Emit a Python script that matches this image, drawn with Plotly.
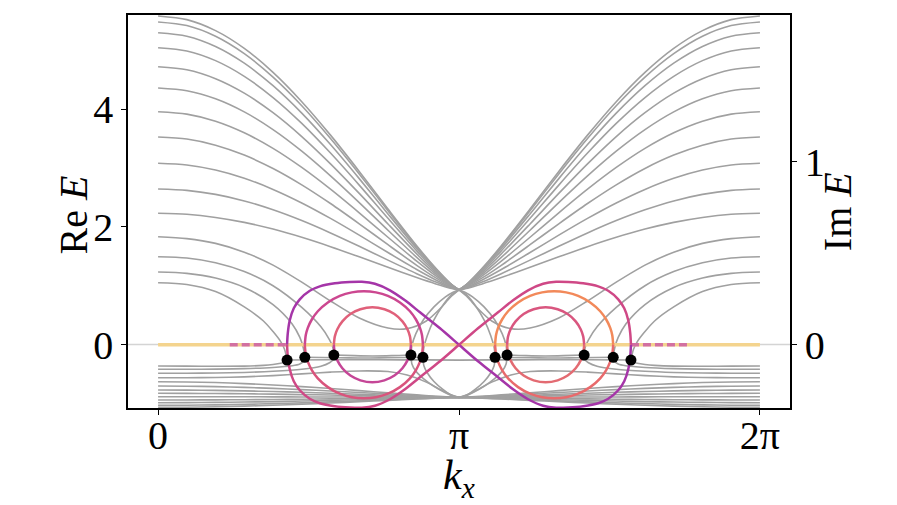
import math
import plotly.graph_objects as go

PI = math.pi
TWO_PI = 2 * math.pi

# ---------------- data ----------------
# regular bands, sampled on k in [0, pi]; the spectrum is symmetric under k -> 2pi - k
K_HALF = [0, 0.3, 0.6, 0.9, 1.2, 1.5, 1.8, 2.1, 2.4, 2.7, 2.9, 3.05, PI]

UPPER_BANDS = [
    [5.587, 5.525, 5.338, 5.036, 4.628, 4.130, 3.561, 2.944, 2.305, 1.680, 1.295, 1.042, 0.927],
    [5.485, 5.424, 5.242, 4.946, 4.547, 4.060, 3.503, 2.900, 2.275, 1.664, 1.287, 1.040, 0.927],
    [5.303, 5.244, 5.069, 4.785, 4.402, 3.935, 3.400, 2.821, 2.221, 1.634, 1.272, 1.035, 0.927],
    [5.048, 4.993, 4.828, 4.561, 4.200, 3.760, 3.256, 2.711, 2.146, 1.593, 1.252, 1.029, 0.927],
    [4.724, 4.673, 4.521, 4.275, 3.943, 3.537, 3.073, 2.570, 2.050, 1.541, 1.227, 1.021, 0.927],
    [4.362, 4.316, 4.179, 3.956, 3.655, 3.288, 2.868, 2.414, 1.943, 1.482, 1.198, 1.012, 0.927],
    [3.959, 3.918, 3.797, 3.600, 3.335, 3.011, 2.641, 2.239, 1.824, 1.417, 1.166, 1.002, 0.927],
    [3.529, 3.494, 3.390, 3.221, 2.994, 2.716, 2.398, 2.053, 1.697, 1.347, 1.132, 0.991, 0.927],
    [3.082, 3.053, 2.967, 2.827, 2.638, 2.408, 2.145, 1.860, 1.564, 1.275, 1.097, 0.980, 0.927],
    [2.645, 2.622, 2.553, 2.442, 2.291, 2.108, 1.898, 1.671, 1.435, 1.205, 1.063, 0.969, 0.927],
    [2.231, 2.214, 2.161, 2.077, 1.963, 1.823, 1.664, 1.491, 1.313, 1.138, 1.030, 0.959, 0.927],
]

LOWER_BANDS = [
    [-0.633, -0.637, -0.647, -0.665, -0.688, -0.716, -0.749, -0.784, -0.821, -0.857, -0.879, -0.893, -0.900],
    [-0.706, -0.709, -0.716, -0.729, -0.746, -0.767, -0.790, -0.816, -0.843, -0.869, -0.885, -0.895, -0.900],
    [-0.774, -0.776, -0.781, -0.789, -0.800, -0.813, -0.829, -0.845, -0.863, -0.880, -0.890, -0.897, -0.900],
    [-0.830, -0.831, -0.834, -0.838, -0.844, -0.852, -0.860, -0.870, -0.879, -0.889, -0.894, -0.898, -0.900],
    [-0.888, -0.888, -0.889, -0.889, -0.890, -0.892, -0.893, -0.895, -0.896, -0.898, -0.899, -0.900, -0.900],
    [-0.944, -0.943, -0.942, -0.939, -0.935, -0.930, -0.925, -0.919, -0.913, -0.907, -0.903, -0.901, -0.900],
    [-0.990, -0.989, -0.985, -0.979, -0.971, -0.962, -0.951, -0.939, -0.927, -0.915, -0.907, -0.902, -0.900],
    [-1.034, -1.032, -1.027, -1.018, -1.006, -0.992, -0.976, -0.958, -0.940, -0.922, -0.911, -0.903, -0.900],
    [-1.068, -1.066, -1.059, -1.048, -1.033, -1.015, -0.995, -0.973, -0.950, -0.927, -0.913, -0.904, -0.900],
]

# bands near the gap (no exceptional point)
GAP_K = [0, 0.3, 0.6, 0.9, 1.2, 1.5, 1.8, 2.1, 2.4, 2.6, 2.8, 2.95, 3.05, PI]
GAP_UPPER_E = [1.833, 1.80, 1.72, 1.57, 1.35, 1.06, 0.74, 0.45, 0.28, 0.27, 0.40, 0.62, 0.80, 0.927]
GAP_LOWER_E = [-0.565, -0.565, -0.56, -0.55, -0.53, -0.50, -0.47, -0.45, -0.46, -0.52, -0.64, -0.77, -0.85, -0.90]

# pair 1 (figure-eight): coalesce at k=1.347, complex up to 2pi-1.347
P1_PRE_K = [0, 0.3, 0.6, 0.9, 1.1, 1.2, 1.28, 1.32, 1.347]
P1_UP_E = [1.051, 1.02, 0.90, 0.64, 0.40, 0.22, 0.05, -0.08, -0.264]
P1_LO_E = [-0.366, -0.368, -0.37, -0.368, -0.355, -0.34, -0.32, -0.30, -0.264]
P1_RE_K = [1.347, 1.8, 2.3, 2.8, PI]
P1_RE_E = [-0.264, -0.26, -0.26, -0.262, -0.265]

# pair 2
P2_PRE_K = [0, 0.3, 0.6, 0.9, 1.2, 1.4, 1.48, 1.515, 1.532]
P2_UP_E = [1.233, 1.21, 1.13, 0.97, 0.68, 0.35, 0.12, -0.05, -0.218]
P2_LO_E = [-0.422, -0.421, -0.418, -0.41, -0.39, -0.36, -0.33, -0.29, -0.218]
P2_RE_K = [1.532, 1.9, 2.15, 2.4, 2.765]
P2_RE_E = [-0.218, -0.225, -0.23, -0.225, -0.218]
P2_POST_K = [2.765, 2.775, 2.81, 2.88, 2.97, 3.06, PI]
P2_POST_UP_E = [-0.218, -0.05, 0.15, 0.42, 0.66, 0.84, 0.927]
P2_POST_LO_E = [-0.218, -0.36, -0.48, -0.63, -0.76, -0.86, -0.90]

# pair 3
P3_PRE_K = [0, 0.3, 0.6, 0.9, 1.2, 1.5, 1.7, 1.79, 1.825, 1.835]
P3_UP_E = [1.493, 1.47, 1.39, 1.24, 1.00, 0.63, 0.30, 0.08, -0.05, -0.179]
P3_LO_E = [-0.490, -0.489, -0.485, -0.475, -0.455, -0.42, -0.37, -0.31, -0.26, -0.179]
P3_RE_K = [1.835, 2.05, 2.24, 2.44, 2.640]
P3_RE_E = [-0.179, -0.19, -0.195, -0.19, -0.179]
P3_POST_K = [2.640, 2.65, 2.69, 2.77, 2.88, 3.0, 3.08, PI]
P3_POST_UP_E = [-0.179, -0.02, 0.18, 0.42, 0.64, 0.81, 0.89, 0.927]
P3_POST_LO_E = [-0.179, -0.33, -0.45, -0.58, -0.71, -0.82, -0.88, -0.90]

# imaginary parts (right axis)
FIG8_K = [1.3466, 1.3539, 1.3748, 1.4166, 1.4793, 1.5839, 1.6884, 1.8452, 2.0021, 2.1276,
          2.2635, 2.4203, 2.5771, 2.7339, 2.9430, 3.1416, 3.3402, 3.5493, 3.7061, 3.8629,
          4.0197, 4.1556, 4.2811, 4.4380, 4.5948, 4.6993, 4.8039, 4.8666, 4.9084, 4.9293, 4.9366]
FIG8_IM = [0, 0.0627, 0.1337, 0.1991, 0.2482, 0.2946, 0.3191, 0.3355, 0.3426, 0.3437,
           0.3328, 0.2973, 0.2428, 0.1773, 0.0900, 0, -0.0900, -0.1773, -0.2428, -0.2973,
           -0.3328, -0.3437, -0.3426, -0.3355, -0.3191, -0.2946, -0.2482, -0.1991, -0.1337, -0.0627, 0]

MID_LOOP_K = [1.5317, 1.5421, 1.5630, 1.6049, 1.6676, 1.7721, 1.8976, 2.0230, 2.1485,
              2.2740, 2.3994, 2.5249, 2.6294, 2.6921, 2.7340, 2.7549, 2.7653]
MID_LOOP_IM = [0, 0.053, 0.092, 0.138, 0.183, 0.231, 0.267, 0.286, 0.292,
               0.286, 0.267, 0.231, 0.183, 0.138, 0.092, 0.053, 0]

IN_LOOP_K = [1.8348, 1.8453, 1.8714, 1.9237, 2.0073, 2.1118, 2.2373, 2.3628, 2.4673,
             2.5509, 2.6032, 2.6294, 2.6398]
IN_LOOP_IM = [0, 0.046, 0.085, 0.128, 0.168, 0.194, 0.205, 0.194, 0.168, 0.128, 0.085, 0.046, 0]

REAL_SEG_K = [0.748, 1.3466]   # Im = 0 of the figure-eight pair before coalescing

EP_K = [1.3466, 1.532, 1.835, 2.640, 2.765, 3.518, 3.643, 4.448, 4.7515, 4.9366]
EP_RE = [-0.264, -0.218, -0.179, -0.179, -0.218, -0.218, -0.179, -0.179, -0.218, -0.264]

X_TICKS = [0, PI, TWO_PI]
X_TICKTEXT = ["0", "π", "2π"]
Y_TICKS = [0, 2, 4]
Y2_TICKS = [0, 1]

GRAY = "#a0a0a0"
FONT = "Liberation Serif"

# ---------------- helpers ----------------
def mirror(k, v, sign=1):
    return [TWO_PI - a for a in reversed(k)], [sign * b for b in reversed(v)]


gx, gy = [], []


def add_gray(k, v, both=True):
    gx.extend(list(k) + [None])
    gy.extend(list(v) + [None])
    if both:
        mk, mv = mirror(k, v)
        gx.extend(mk + [None])
        gy.extend(mv + [None])


for band in UPPER_BANDS + LOWER_BANDS:
    add_gray(K_HALF, band)
add_gray(GAP_K, GAP_UPPER_E)
add_gray(GAP_K, GAP_LOWER_E)
for kk, ee in [(P1_PRE_K, P1_UP_E), (P1_PRE_K, P1_LO_E), (P1_RE_K, P1_RE_E),
               (P2_PRE_K, P2_UP_E), (P2_PRE_K, P2_LO_E), (P2_RE_K, P2_RE_E),
               (P2_POST_K, P2_POST_UP_E), (P2_POST_K, P2_POST_LO_E),
               (P3_PRE_K, P3_UP_E), (P3_PRE_K, P3_LO_E), (P3_RE_K, P3_RE_E),
               (P3_POST_K, P3_POST_UP_E), (P3_POST_K, P3_POST_LO_E)]:
    add_gray(kk, ee)

fig = go.Figure()
fig.add_trace(go.Scatter(x=gx, y=gy, mode="lines", line=dict(color=GRAY, width=1.6, shape="spline", smoothing=0.8),
                         hoverinfo="skip", showlegend=False, yaxis="y"))
fig.add_trace(go.Scatter(x=[-1, 8], y=[0, 0], mode="lines", line=dict(color="#d4d4d4", width=1.5),
                         hoverinfo="skip", showlegend=False, yaxis="y"))


def add_im(k, v, color, width=2.5, dash="solid"):
    fig.add_trace(go.Scatter(x=k, y=v, mode="lines",
                             line=dict(color=color, width=width, shape="spline", smoothing=0.8, dash=dash),
                             hoverinfo="skip", showlegend=False, yaxis="y2"))


# zero imaginary line
fig.add_trace(go.Scatter(x=[0, TWO_PI], y=[0, 0], mode="lines", line=dict(color="#f4d48e", width=3.5),
                         hoverinfo="skip", showlegend=False, yaxis="y2"))
add_im(REAL_SEG_K, [0, 0], "rgba(195,70,170,0.7)", 3.5, "8px,4px")
mk, mv = mirror(REAL_SEG_K, [0, 0])
add_im(mk, mv, "rgba(195,70,170,0.7)", 3.5, "8px,4px")

# figure-eight pair
add_im(FIG8_K, FIG8_IM, "#a535a8")
add_im(FIG8_K, [-v for v in FIG8_IM], "#cf4886")
# left loops
add_im(MID_LOOP_K, MID_LOOP_IM, "#cc4790")
add_im(MID_LOOP_K, [-v for v in MID_LOOP_IM], "#d9547c")
add_im(IN_LOOP_K, IN_LOOP_IM, "#e0607a")
add_im(IN_LOOP_K, [-v for v in IN_LOOP_IM], "#c54697")
# right loops
mk, mv = mirror(MID_LOOP_K, MID_LOOP_IM)
add_im(mk, mv, "#f2895a")
add_im(mk, [-v for v in mv], "#e86a6c")
mk, mv = mirror(IN_LOOP_K, IN_LOOP_IM)
add_im(mk, mv, "#d9567f")
add_im(mk, [-v for v in mv], "#e36b72")

# exceptional points
fig.add_trace(go.Scatter(x=EP_K, y=EP_RE, mode="markers", marker=dict(color="black", size=11),
                         hoverinfo="skip", showlegend=False, yaxis="y3"))

axis_common = dict(showgrid=False, zeroline=False, showline=True, linecolor="black", linewidth=1.5,
                   ticks="outside", ticklen=5, tickwidth=1.2, tickcolor="black", automargin=False,
                   tickfont=dict(family=FONT, size=40, color="black"))

fig.update_layout(
    width=889, height=497,
    margin=dict(l=120, r=107, t=7, b=97),
    plot_bgcolor="white", paper_bgcolor="white",
    xaxis=dict(range=[-0.314, 6.597], tickvals=X_TICKS, ticktext=X_TICKTEXT, mirror=True,
               ticklabelstandoff=-14, **axis_common),
    yaxis=dict(range=[-1.08, 5.604], tickvals=Y_TICKS, **axis_common),
    yaxis2=dict(range=[-0.345, 1.8], tickvals=Y2_TICKS, overlaying="y", side="right", **axis_common),
    yaxis3=dict(range=[-1.08, 5.604], overlaying="y", visible=False),
    annotations=[
        dict(text="Re <i>E</i>", xref="paper", yref="paper", x=-0.083, y=0.49, textangle=-90,
             showarrow=False, font=dict(family=FONT, size=40, color="black"), xanchor="center", yanchor="middle"),
        dict(text="Im <i>E</i>", xref="paper", yref="paper", x=1.072, y=0.50, textangle=-90,
             showarrow=False, font=dict(family=FONT, size=40, color="black"), xanchor="center", yanchor="middle"),
        dict(text="<i>k<sub>x</sub></i>", xref="paper", yref="paper", x=0.5, y=-0.178,
             showarrow=False, font=dict(family=FONT, size=42, color="black"), xanchor="center", yanchor="middle"),
    ],
)

fig.write_html("out.html")
